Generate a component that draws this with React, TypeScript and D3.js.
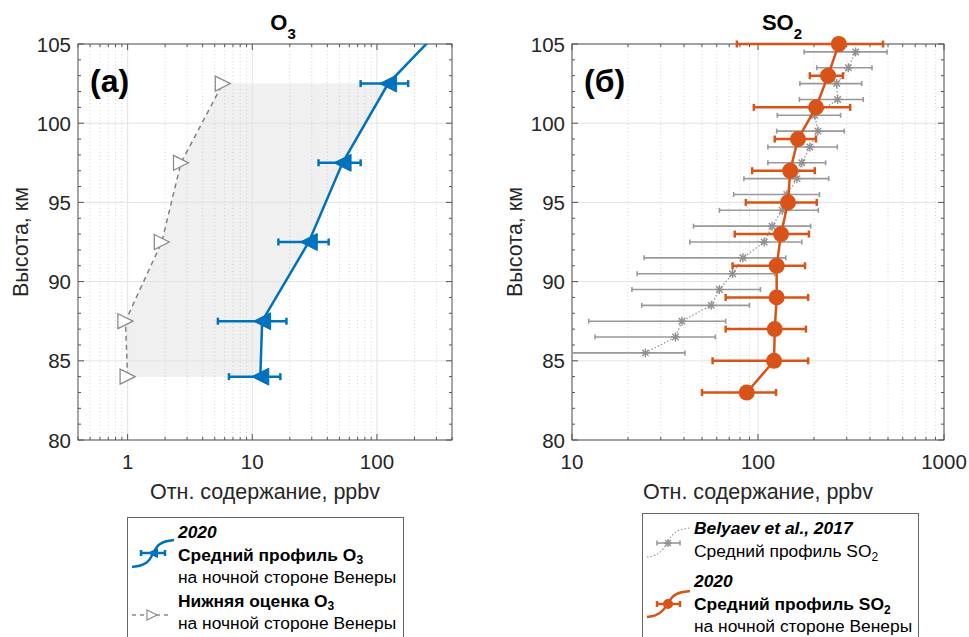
import React from "react";
import * as d3 from "d3";

// O3, 2020 mean profile (ppbv) and its error range
const o3Alt = [84, 87.5, 92.5, 97.5, 102.5, 107.5];
const o3Mean = [11.6, 12, 28.4, 53, 123, 502];
const o3Low = [6.5, 5.3, 16.2, 34, 74, 300];
const o3High = [16.8, 18.8, 41, 74, 178, 800];

// O3 lower estimate
const o3EstAlt = [84, 87.5, 92.5, 97.5, 102.5];
const o3Est = [1.0, 0.96, 1.88, 2.68, 5.8];

// SO2, 2020 mean profile
const so2Alt = [83, 85, 87, 89, 91, 93, 95, 97, 99, 101, 103, 105];
const so2Mean = [87, 122, 123, 126, 126, 133, 145, 149, 164, 205, 238, 272];
const so2Low = [50, 57, 67, 67, 73, 75, 86, 93, 123, 95, 190, 77];
const so2High = [125, 186, 181, 186, 179, 188, 207, 202, 205, 313, 286, 470];

// SO2, Belyaev et al. 2017
const belAlt = [85.5, 86.5, 87.5, 88.5, 89.5, 90.5, 91.5, 92.5, 93.5, 94.5, 95.5, 96.5, 97.5, 98.5, 99.5, 100.5, 101.5, 102.5, 103.5, 104.5];
const belMean = [24.8, 36, 39, 56, 62, 73, 83, 108, 119, 135, 143, 162, 172, 190, 210, 202, 268, 265, 306, 335];
const belLow = [8, 13.3, 12.3, 23.7, 21, 22.4, 24.4, 43, 45, 62, 74, 84, 113, 113, 126, 127, 167, 168, 207, 177];
const belHigh = [40.5, 59, 67, 90, 103, 123, 141, 172, 192, 211, 214, 240, 231, 267, 291, 278, 368, 361, 410, 494];

const altDomain = [80, 105];
const altTicks = [80, 85, 90, 95, 100, 105];
const o3Domain = [0.4, 400];
const o3Ticks = [1, 10, 100];
const so2Domain = [10, 1000];
const so2Ticks = [10, 100, 1000];

const BLUE = "#0072BD";
const ORANGE = "#D95319";
const AXIS = "#555";
const TXT = "#262626";
const FONT = "'Liberation Sans', Arial, sans-serif";
const TICK_FS = 20.5;
const LABEL_FS = 21.5;
const LEG_FS = 17.4;

const isDecade = (v: number) => Math.abs(Math.log10(v) - Math.round(Math.log10(v))) < 1e-9;

function Frame({ x, y, id, xTicks, ylabel, xlabel, title, titleX, tag }: any) {
  const [x0, x1] = x.range();
  const [y0, y1] = y.range();
  const minorX = x.ticks().filter((v: number) => !isDecade(v));
  const majorX = x.ticks().filter((v: number) => isDecade(v));
  const yAll = d3.range(altDomain[0], altDomain[1] + 1, 1);
  return (
    <g>
      <clipPath id={id}>
        <rect x={x0} y={y1} width={x1 - x0} height={y0 - y1} />
      </clipPath>
      {minorX.map((v: number) => (
        <line key={"mg" + v} x1={x(v)} x2={x(v)} y1={y0} y2={y1} stroke="#c8c8c8" strokeWidth={0.8} strokeDasharray="1,2.5" />
      ))}
      {majorX.map((v: number) => (
        <line key={"Mg" + v} x1={x(v)} x2={x(v)} y1={y0} y2={y1} stroke="#e3e3e3" strokeWidth={1} />
      ))}
      {altTicks.map((v) => (
        <line key={"hg" + v} x1={x0} x2={x1} y1={y(v)} y2={y(v)} stroke="#e3e3e3" strokeWidth={1} />
      ))}
      {/* frame and inward ticks */}
      <rect x={x0} y={y1} width={x1 - x0} height={y0 - y1} fill="none" stroke={AXIS} strokeWidth={1} />
      {x.ticks().map((v: number) => {
        const l = isDecade(v) ? 6 : 3;
        return (
          <g key={"xt" + v}>
            <line x1={x(v)} x2={x(v)} y1={y0} y2={y0 - l} stroke={AXIS} />
            <line x1={x(v)} x2={x(v)} y1={y1} y2={y1 + l} stroke={AXIS} />
          </g>
        );
      })}
      {yAll.map((v) => {
        const l = v % 5 === 0 ? 6 : 3;
        return (
          <g key={"yt" + v}>
            <line x1={x0} x2={x0 + l} y1={y(v)} y2={y(v)} stroke={AXIS} />
            <line x1={x1} x2={x1 - l} y1={y(v)} y2={y(v)} stroke={AXIS} />
          </g>
        );
      })}
      {xTicks.map((v: number) => (
        <text key={"xl" + v} x={x(v)} y={y0 + 29} textAnchor="middle" fontSize={TICK_FS} fill={TXT}>{v}</text>
      ))}
      {altTicks.map((v) => (
        <text key={"yl" + v} x={x0 - 7} y={y(v) + 7.5} textAnchor="end" fontSize={TICK_FS} fill={TXT}>{v}</text>
      ))}
      <text transform={`translate(${x0 - 50},${(y0 + y1) / 2}) rotate(-90)`} textAnchor="middle" fontSize={LABEL_FS} fill={TXT}>{ylabel}</text>
      <text x={(x0 + x1) / 2} y={y0 + 59} textAnchor="middle" fontSize={LABEL_FS} fill={TXT}>{xlabel}</text>
      <text x={titleX} y={30} textAnchor="middle" fontSize={22} fontWeight="bold" fill="#000">
        {title[0]}<tspan dy={9} fontSize={15}>{title[1]}</tspan>
      </text>
      <text x={x0 + 12} y={y1 + 48} fontSize={32} fontWeight="bold" fill="#000">{tag}</text>
    </g>
  );
}

function ErrBar({ x1, x2, y, color, w, cap }: any) {
  return (
    <g stroke={color} strokeWidth={w}>
      <line x1={x1} x2={x2} y1={y} y2={y} />
      <line x1={x1} x2={x1} y1={y - cap} y2={y + cap} />
      <line x1={x2} x2={x2} y1={y - cap} y2={y + cap} />
    </g>
  );
}

const triLeft = (cx: number, cy: number, s: number) =>
  `M${cx - s / 2},${cy}L${cx + s / 2},${cy - s / 2}L${cx + s / 2},${cy + s / 2}Z`;
const triRight = (cx: number, cy: number, s: number) =>
  `M${cx + s / 2},${cy}L${cx - s / 2},${cy - s / 2}L${cx - s / 2},${cy + s / 2}Z`;

function Asterisk({ cx, cy, r, color }: any) {
  const d = r * 0.72;
  return (
    <g stroke={color} strokeWidth={1.4}>
      <line x1={cx - r} x2={cx + r} y1={cy} y2={cy} />
      <line x1={cx} x2={cx} y1={cy - r} y2={cy + r} />
      <line x1={cx - d} x2={cx + d} y1={cy - d} y2={cy + d} />
      <line x1={cx - d} x2={cx + d} y1={cy + d} y2={cy - d} />
    </g>
  );
}

export default function App() {
  const y = d3.scaleLinear().domain(altDomain).range([440, 44]);
  const xL = d3.scaleLog().domain(o3Domain).range([78, 452]);
  const xR = d3.scaleLog().domain(so2Domain).range([572, 944]);

  const o3 = o3Alt.map((a, i) => ({ a, v: o3Mean[i], lo: o3Low[i], hi: o3High[i] }));
  const est = o3EstAlt.map((a, i) => ({ a, v: o3Est[i] }));
  const so2 = so2Alt.map((a, i) => ({ a, v: so2Mean[i], lo: so2Low[i], hi: so2High[i] }));
  const bel = belAlt.map((a, i) => ({ a, v: belMean[i], lo: belLow[i], hi: belHigh[i] }));

  const lineL = d3.line<any>().x((d) => xL(d.v)).y((d) => y(d.a));
  const lineR = d3.line<any>().x((d) => xR(d.v)).y((d) => y(d.a));

  // shaded band between lower estimate and mean profile
  const band = [
    ...est,
    ...o3.filter((d) => d.a <= o3EstAlt[o3EstAlt.length - 1]).reverse(),
  ];
  const inside = (d: any) => d.a >= altDomain[0] && d.a <= altDomain[1];

  const sCurve = d3.line<any>().curve(d3.curveBasis);

  return (
    <svg width={969} height={637} style={{ position: "absolute", left: 0, top: 0, background: "#fff" }} fontFamily={FONT}>
      <rect width={969} height={637} fill="#fff" />
      {/* left panel */}
      <path d={lineL(band) + "Z"} fill="#f0f0f0" />
      <Frame x={xL} y={y} id="clipL" xTicks={o3Ticks} ylabel="Высота, км" xlabel="Отн. содержание, ppbv" title={["O", "3"]} titleX={283} tag="(a)" />
      <g clipPath="url(#clipL)">
        <path d={lineL(est) ?? ""} fill="none" stroke="#808080" strokeWidth={1.5} strokeDasharray="5,4" />
        <path d={lineL(o3) ?? ""} fill="none" stroke={BLUE} strokeWidth={2.5} />
        {o3.map((d) => (
          <ErrBar key={"eb" + d.a} x1={xL(d.lo)} x2={xL(d.hi)} y={y(d.a)} color={BLUE} w={2.5} cap={3.5} />
        ))}
      </g>
      {est.filter(inside).map((d) => (
        <path key={"tr" + d.a} d={triRight(xL(d.v), y(d.a), 15)} fill="#fff" stroke="#8c8c8c" strokeWidth={1.3} />
      ))}
      {o3.filter(inside).map((d) => (
        <path key={"tl" + d.a} d={triLeft(xL(d.v), y(d.a), 17)} fill={BLUE} stroke={BLUE} strokeWidth={1} />
      ))}

      {/* right panel */}
      <Frame x={xR} y={y} id="clipR" xTicks={so2Ticks} ylabel="Высота, км" xlabel="Отн. содержание, ppbv" title={["SO", "2"]} titleX={782} tag="(б)" />
      <g clipPath="url(#clipR)">
        {bel.map((d) => (
          <ErrBar key={"bb" + d.a} x1={xR(d.lo)} x2={xR(d.hi)} y={y(d.a)} color="#999" w={1.6} cap={2.5} />
        ))}
        <path d={lineR(bel) ?? ""} fill="none" stroke="#999" strokeWidth={1.3} strokeDasharray="1.5,2" />
        {bel.map((d) => (
          <Asterisk key={"as" + d.a} cx={xR(d.v)} cy={y(d.a)} r={4.5} color="#8f8f8f" />
        ))}
        <path d={lineR(so2) ?? ""} fill="none" stroke={ORANGE} strokeWidth={2.5} />
      </g>
      {so2.filter(inside).map((d) => (
        <ErrBar key={"sb" + d.a} x1={xR(d.lo)} x2={xR(d.hi)} y={y(d.a)} color={ORANGE} w={2.5} cap={3.5} />
      ))}
      {so2.filter(inside).map((d) => (
        <circle key={"sc" + d.a} cx={xR(d.v)} cy={y(d.a)} r={8} fill={ORANGE} />
      ))}

      {/* left legend */}
      <rect x={127.5} y={517.5} width={276} height={140} fill="#fff" stroke="#666" strokeWidth={1} />
      <path d={sCurve([[132, 567], [140, 566], [150, 562], [156, 545], [166, 541], [174, 540]]) ?? ""} fill="none" stroke={BLUE} strokeWidth={2.5} />
      <ErrBar x1={141} x2={165} y={553} color={BLUE} w={2.5} cap={3} />
      <path d={triLeft(153, 553, 9)} fill={BLUE} stroke={BLUE} />
      <text x={178} y={538} fontSize={LEG_FS} fontWeight="bold" fontStyle="italic" fill="#000">2020</text>
      <text x={178} y={561} fontSize={LEG_FS} fontWeight="bold" fill="#000">Средний профиль O<tspan dy={3} fontSize={12}>3</tspan></text>
      <text x={178} y={583} fontSize={LEG_FS} fill="#000">на ночной стороне Венеры</text>
      <line x1={132} x2={172} y1={615} y2={615} stroke="#8c8c8c" strokeWidth={1.3} strokeDasharray="4,4" />
      <path d={triRight(152, 615, 10)} fill="#fff" stroke="#8c8c8c" strokeWidth={1.2} />
      <text x={178} y={607} fontSize={LEG_FS} fontWeight="bold" fill="#000">Нижняя оценка O<tspan dy={3} fontSize={12}>3</tspan></text>
      <text x={178} y={629} fontSize={LEG_FS} fill="#000">на ночной стороне Венеры</text>

      {/* right legend */}
      <rect x={642.5} y={513.5} width={276} height={140} fill="#fff" stroke="#666" strokeWidth={1} />
      <path d={sCurve([[647, 557], [655, 556], [664, 550], [672, 533], [682, 529], [690, 528]]) ?? ""} fill="none" stroke="#999" strokeWidth={1.2} strokeDasharray="1.5,2" />
      <ErrBar x1={657} x2={680} y={543} color="#999" w={1.6} cap={2.5} />
      <Asterisk cx={668} cy={543} r={4} color="#8f8f8f" />
      <text x={694} y={534} fontSize={LEG_FS} fontWeight="bold" fontStyle="italic" fill="#000">Belyaev et al., 2017</text>
      <text x={694} y={557} fontSize={LEG_FS} fill="#000">Средний профиль SO<tspan dy={4} fontSize={12}>2</tspan></text>
      <path d={sCurve([[647, 617], [655, 616], [664, 611], [672, 595], [682, 592], [690, 591]]) ?? ""} fill="none" stroke={ORANGE} strokeWidth={2.5} />
      <ErrBar x1={657} x2={680} y={604} color={ORANGE} w={2.5} cap={3} />
      <circle cx={668} cy={604} r={5} fill={ORANGE} />
      <text x={694} y={587} fontSize={LEG_FS} fontWeight="bold" fontStyle="italic" fill="#000">2020</text>
      <text x={694} y={610} fontSize={LEG_FS} fontWeight="bold" fill="#000">Средний профиль SO<tspan dy={4} fontSize={12}>2</tspan></text>
      <text x={694} y={632} fontSize={LEG_FS} fill="#000">на ночной стороне Венеры</text>
    </svg>
  );
}
